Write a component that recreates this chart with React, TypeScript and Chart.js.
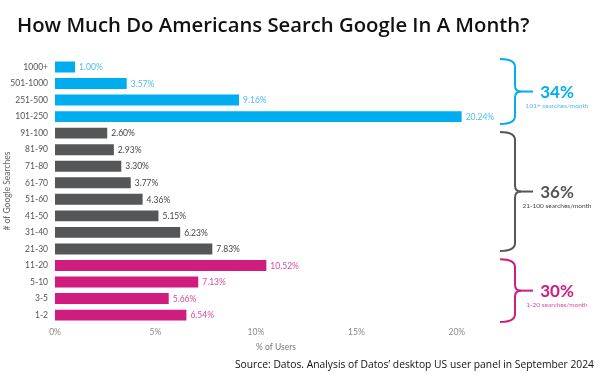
import React, { useEffect, useRef } from "react";
import { Chart, registerables } from "chart.js";

Chart.register(...registerables);

const categories = ["1000+", "501-1000", "251-500", "101-250", "91-100", "81-90", "71-80", "61-70", "51-60", "41-50", "31-40", "21-30", "11-20", "5-10", "3-5", "1-2"];
const values = [1.0, 3.57, 9.16, 20.24, 2.6, 2.93, 3.3, 3.77, 4.36, 5.15, 6.23, 7.83, 10.52, 7.13, 5.66, 6.54];
const groupOf = [0, 0, 0, 0, 1, 1, 1, 1, 1, 1, 1, 1, 2, 2, 2, 2];
const groupPercents = ["34%", "36%", "30%"];
const groupSubs = ["101+ searches/month", "21-100 searches/month", "1-20 searches/month"];
const groupRanges = [
  [-0.48, 3.45],
  [3.93, 11.13],
  [11.62, 15.42],
];
const xTicks = [0, 5, 10, 15, 20];

const barColors = ["#00adef", "#555658", "#d01b7f"];
const labelColors = ["#4cbdec", "#444444", "#dc4a9c"];

const TITLE = "How Much Do Americans Search Google In A Month?";
const SOURCE = "Source: Datos. Analysis of Datos\u2019 desktop US user panel in September 2024";

const decorPlugin = {
  id: "decor",
  afterDatasetsDraw(chart: any) {
    const ctx = chart.ctx;
    const meta = chart.getDatasetMeta(0);
    const yScale = chart.scales.y;
    ctx.save();
    // value labels
    ctx.font = "8.5px Lato";
    ctx.textBaseline = "middle";
    ctx.textAlign = "left";
    meta.data.forEach((bar: any, i: number) => {
      ctx.fillStyle = labelColors[groupOf[i]];
      ctx.fillText(values[i].toFixed(2) + "%", bar.x + 4, bar.y + 0.5);
    });
    // braces
    groupRanges.forEach((r, g) => {
      const top = yScale.getPixelForValue(r[0]);
      const bottom = yScale.getPixelForValue(r[1]);
      const mid = (top + bottom) / 2;
      const xe = 500;
      const xv = 515;
      const xt = 533;
      ctx.strokeStyle = barColors[g];
      ctx.lineWidth = 2;
      ctx.beginPath();
      ctx.moveTo(xe, top);
      ctx.quadraticCurveTo(xv, top, xv, top + 8);
      ctx.lineTo(xv, mid - 6);
      ctx.quadraticCurveTo(xv, mid, xv + 6, mid);
      ctx.quadraticCurveTo(xv, mid, xv, mid + 6);
      ctx.lineTo(xv, bottom - 8);
      ctx.quadraticCurveTo(xv, bottom, xe, bottom);
      ctx.stroke();
      ctx.beginPath();
      ctx.moveTo(xv + 4, mid);
      ctx.lineTo(xt, mid);
      ctx.stroke();
      ctx.fillStyle = barColors[g];
      ctx.textAlign = "center";
      ctx.textBaseline = "middle";
      ctx.font = "bold 17px Lato";
      ctx.fillText(groupPercents[g], 557, mid + 1);
      ctx.font = "6.5px Lato";
      ctx.fillStyle = labelColors[g];
      ctx.fillText(groupSubs[g], 557, mid + 14);
    });
    // title
    ctx.textAlign = "left";
    ctx.textBaseline = "alphabetic";
    ctx.fillStyle = "#111";
    ctx.font = "600 20.3px 'Open Sans'";
    ctx.fillText(TITLE, 17, 32.3);
    // source
    ctx.textAlign = "right";
    ctx.textBaseline = "middle";
    ctx.font = "500 10.3px 'Open Sans'";
    ctx.fillStyle = "#111";
    ctx.fillText(SOURCE, 594, 365);
    ctx.restore();
  },
};

export default function App() {
  const ref = useRef<HTMLCanvasElement | null>(null);
  useEffect(() => {
    if (!ref.current) return;
    const chart = new Chart(ref.current, {
      type: "bar",
      data: {
        labels: categories,
        datasets: [
          {
            data: values,
            backgroundColor: values.map((_, i) => barColors[groupOf[i]]),
            barPercentage: 0.66,
            categoryPercentage: 1,
          },
        ],
      },
      options: {
        indexAxis: "y",
        animation: false,
        responsive: false,
        maintainAspectRatio: false,
        layout: { padding: { top: 58.7, bottom: 18.6, left: 0, right: 103 } },
        plugins: { legend: { display: false }, tooltip: { enabled: false }, title: { display: false } },
        scales: {
          x: {
            min: 0,
            max: 22,
            grid: { display: false, drawTicks: false },
            border: { display: false },
            afterBuildTicks: (scale: any) => {
              scale.ticks = xTicks.map((v) => ({ value: v }));
            },
            afterFit: (scale: any) => {
              scale.height = 33;
            },
            ticks: {
              padding: 4,
              color: "#8a8a8a",
              font: { family: "Lato", size: 8.5 },
              callback: (v: any) => v + "%",
            },
            title: {
              display: true,
              text: "% of Users",
              color: "#777",
              font: { family: "Lato", size: 8.5 },
              padding: { top: 2, bottom: 4 },
            },
          },
          y: {
            grid: { display: false, drawTicks: false },
            border: { display: false },
            afterFit: (scale: any) => {
              scale.width = 55;
            },
            ticks: {
              padding: 7,
              color: "#555",
              font: { family: "Lato", size: 8.5 },
            },
            title: {
              display: true,
              text: "# of Google Searches",
              color: "#666",
              font: { family: "Lato", size: 8.5 },
              padding: { top: 2, bottom: 2 },
            },
          },
        },
      },
      plugins: [decorPlugin],
    });
    return () => chart.destroy();
  }, []);
  return (
    <div style={{ position: "fixed", left: 0, top: 0, width: 600, height: 375, background: "#fff" }}>
      <canvas ref={ref} width={600} height={375} style={{ display: "block" }} />
    </div>
  );
}
